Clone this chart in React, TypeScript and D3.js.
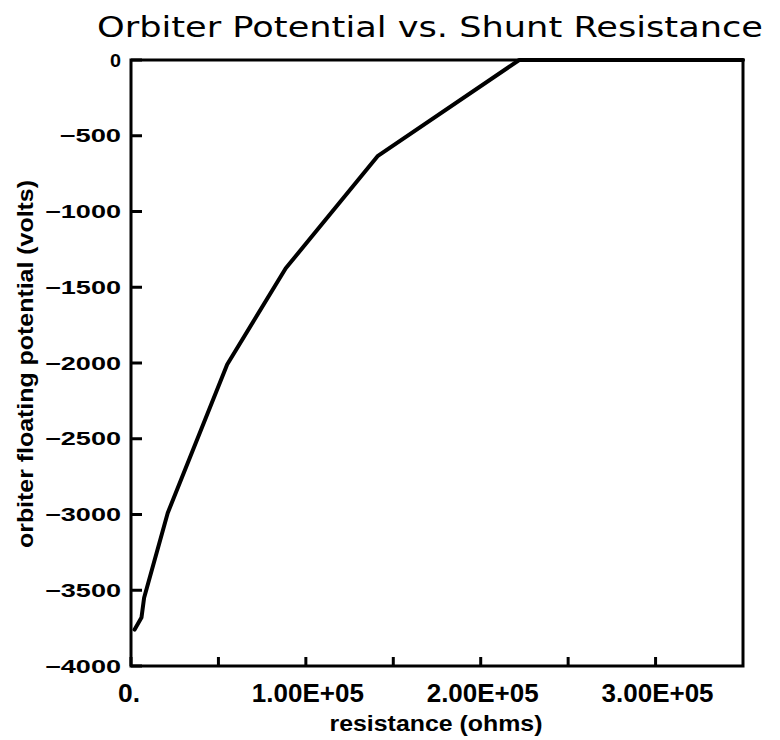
import React from "react";
import * as d3 from "d3";

const resistance = [2000, 6000, 7500, 21000, 55000, 88500, 141000, 222000, 350000];
const potential = [-3760, -3680, -3550, -2990, -2010, -1375, -635, 0, 0];
const yTicks = [0, -500, -1000, -1500, -2000, -2500, -3000, -3500, -4000];
const xTicks = [0, 50000, 100000, 150000, 200000, 250000, 300000];
const xLabelValues = [0, 100000, 200000, 300000];
const xLabelTexts = ["0.", "1.00E+05", "2.00E+05", "3.00E+05"];
const title = "Orbiter Potential vs. Shunt Resistance";
const xTitle = "resistance (ohms)";
const yTitle = "orbiter floating potential (volts)";

const W = 780, H = 740;
const L = 131, R = 743, T = 60, B = 666;

export default function App() {
  const x = d3.scaleLinear().domain([0, 350000]).range([L, R]);
  const y = d3.scaleLinear().domain([-4000, 0]).range([B, T]);
  const line = d3.line<number>()
    .x((_, i) => x(resistance[i]))
    .y((d) => y(d));
  const path = line(potential) || "";

  return (
    <svg width={W} height={H} style={{ position: "absolute", left: 0, top: 0, background: "#fff" }}>
      <rect x={0} y={0} width={W} height={H} fill="#fff" />
      <text x={(97 + 763) / 2} y={37} textAnchor="middle" fontFamily="DejaVu Sans" fontSize={29}
        textLength={666} lengthAdjust="spacingAndGlyphs" fill="#000">{title}</text>
      <rect x={L} y={T} width={R - L} height={B - T} fill="none" stroke="#000" strokeWidth={3} />
      {yTicks.map((t) => (
        <g key={"y" + t}>
          <line x1={L} x2={L + 11} y1={y(t)} y2={y(t)} stroke="#000" strokeWidth={3} />
          <text x={121} y={y(t) + 6.5} textAnchor="end" fontFamily="Liberation Sans" fontWeight="bold"
            fontSize={18} textLength={t === 0 ? 11 : 18 + 14.5 * (String(Math.abs(t)).length)}
            lengthAdjust="spacingAndGlyphs" fill="#000">{t === 0 ? "0" : "\u2212" + Math.abs(t)}</text>
        </g>
      ))}
      {xTicks.map((t) => (
        <line key={"x" + t} x1={x(t)} x2={x(t)} y1={B} y2={B - 9} stroke="#000" strokeWidth={3} />
      ))}
      {xLabelValues.map((v, i) => (
        <text key={"xl" + v} x={x(v) + (i === 0 ? -2 : 2)} y={702} textAnchor="middle" fontFamily="Liberation Sans"
          fontWeight="bold" fontSize={26} fill="#000"
          textLength={i === 0 ? 22 : 112} lengthAdjust="spacingAndGlyphs">{xLabelTexts[i]}</text>
      ))}
      <text x={436} y={731} textAnchor="middle" fontFamily="Liberation Sans" fontWeight="bold" fontSize={22}
        textLength={213} lengthAdjust="spacingAndGlyphs" fill="#000">{xTitle}</text>
      <text transform={`translate(33,364) rotate(-90)`} textAnchor="middle" fontFamily="Liberation Sans"
        fontWeight="bold" fontSize={22} textLength={368} lengthAdjust="spacingAndGlyphs" fill="#000">{yTitle}</text>
      <path d={path} fill="none" stroke="#000" strokeWidth={4} strokeLinejoin="round" strokeLinecap="round" />
    </svg>
  );
}
